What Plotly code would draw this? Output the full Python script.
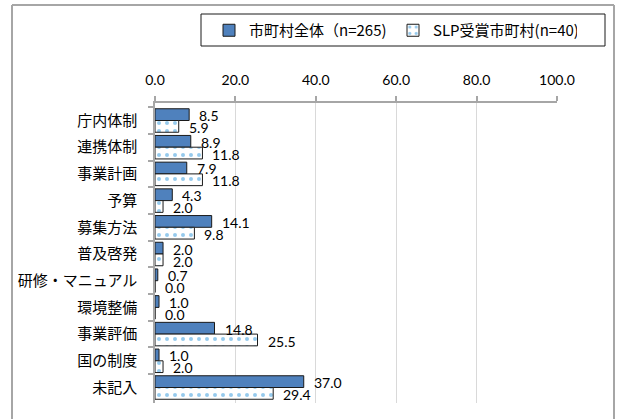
import plotly.graph_objects as go

categories = ["庁内体制", "連携体制", "事業計画", "予算", "募集方法", "普及啓発",
              "研修・マニュアル", "環境整備", "事業評価", "国の制度", "未記入"]
all_munis = [8.5, 8.9, 7.9, 4.3, 14.1, 2.0, 0.7, 1.0, 14.8, 1.0, 37.0]
slp_munis = [5.9, 11.8, 11.8, 2.0, 9.8, 2.0, 0.0, 0.0, 25.5, 2.0, 29.4]
series_names = ["市町村全体（n=265)", "SLP受賞市町村(n=40)"]
x_ticks = [0, 20, 40, 60, 80, 100]

W, H = 617, 420
L, R, T, B = 155, 60, 103, 17
PW, PH = W - L - R, H - T - B

def px_x(p):
    return (p - L) / PW

def px_y(p):
    return (H - B - p) / PH

num_font = dict(family="Lato, Liberation Sans, sans-serif", size=14, color="#000000")
jp_font = dict(family="Noto Sans CJK JP", size=15, color="#000000")

fig = go.Figure()
fig.add_trace(go.Bar(
    y=categories, x=all_munis, orientation="h", name=series_names[0],
    marker=dict(color="#4F81BD", line=dict(color="#1a1a1a", width=1)),
))
fig.add_trace(go.Bar(
    y=categories, x=slp_munis, orientation="h", name=series_names[1],
    marker=dict(color="#FFFFFF", line=dict(color="#1a1a1a", width=1),
                pattern=dict(shape=".", fgcolor="#2E95DC", bgcolor="#FFFFFF",
                             size=8, solidity=0.2)),
))

annotations = []
for vals, ys in ((all_munis, 5), (slp_munis, -7)):
    for c, v in zip(categories, vals):
        annotations.append(dict(x=v, y=c, xref="x", yref="y", text=f"{v:.1f}",
                                showarrow=False, xanchor="left", yanchor="middle",
                                xshift=8, yshift=ys, font=num_font))

border = dict(color="#A6A6A6", width=2)
shapes = [
    dict(type="line", xref="paper", yref="paper", x0=px_x(12), x1=px_x(614),
         y0=px_y(5), y1=px_y(5), line=border),
    dict(type="line", xref="paper", yref="paper", x0=px_x(12), x1=px_x(12),
         y0=px_y(5), y1=px_y(419), line=border),
    dict(type="line", xref="paper", yref="paper", x0=px_x(614), x1=px_x(614),
         y0=px_y(5), y1=px_y(419), line=border),
    dict(type="rect", xref="paper", yref="paper",
         x0=px_x(201), x1=px_x(605), y0=px_y(46), y1=px_y(14),
         line=dict(color="#1a1a1a", width=1), fillcolor="rgba(0,0,0,0)"),
]

fig.update_layout(
    width=W, height=H,
    margin=dict(l=L, r=R, t=T, b=B, pad=0, autoexpand=False),
    paper_bgcolor="#FFFFFF", plot_bgcolor="#FFFFFF",
    barmode="group", bargap=0.12, bargroupgap=0,
    showlegend=True,
    legend=dict(orientation="h", x=px_x(209), y=px_y(14), xanchor="left", yanchor="top",
                font=dict(family="Noto Sans CJK JP", size=15, color="#000000"),
                borderwidth=0, bgcolor="rgba(0,0,0,0)", itemwidth=30,
                entrywidth=139, itemclick=False),
    xaxis=dict(side="top", range=[0, 100], tickvals=x_ticks, tickformat=".1f",
               showgrid=True, gridcolor="#D9D9D9", gridwidth=1,
               showline=True, linecolor="#A6A6A6", linewidth=1.5,
               ticks="outside", ticklen=5, tickcolor="#A6A6A6", tickwidth=1.5,
               tickfont=num_font, zeroline=False, ticklabelstandoff=6,
               fixedrange=True, automargin=False),
    yaxis=dict(autorange="reversed", type="category",
               showline=True, linecolor="#A6A6A6", linewidth=1.5,
               ticks="outside", ticklen=5, tickcolor="#A6A6A6", tickwidth=1.5,
               tickson="boundaries", showgrid=False,
               tickfont=jp_font, ticklabelstandoff=13, fixedrange=True, automargin=False),
    annotations=annotations,
    shapes=shapes,
)

fig.write_html("out.html", config={"displayModeBar": False},
               post_script="document.body.style.margin='0';document.body.style.overflow='hidden';")
